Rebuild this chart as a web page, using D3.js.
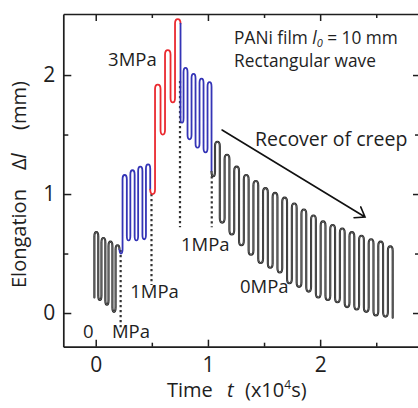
<!DOCTYPE html>
<html>
<head>
<meta charset="utf-8">
<script src="https://cdn.jsdelivr.net/npm/d3@7"></script>
<style>
  html, body { margin: 0; padding: 0; background: #fff; }
  svg { display: block; font-family: "Open Sans", sans-serif; }
</style>
</head>
<body>
<svg id="chart" width="418" height="408"></svg>
<script>
// Creep of a PANi film under a rectangular stress wave: 0 -> 1 -> 3 -> 1 -> 0 MPa.
// Each phase: time of its first stress-on edge (x10^4 s), wave period, on-fraction,
// and the elongation (mm) reached at the end of each on / off half-cycle.
const phaseNames   = ["0MPa", "1MPa", "3MPa", "1MPa", "0MPa"];
const phaseStart   = [-0.012, 0.239, 0.5285, 0.7825, 1.063];
const phasePeriod  = [0.063, 0.0695, 0.0891, 0.0713, 0.0856];
const phaseDuty    = [0.55, 0.55, 0.55, 0.5, 0.5];
const initialElongation = 0.13;

const peaks0    = [0.68, 0.63, 0.60, 0.57];
const valleys0  = [0.11, 0.07, 0.01, 0.50];
const peaks1    = [1.16, 1.20, 1.23, 1.25];
const valleys1  = [0.61, 0.61, 0.62, 1.00];
const peaks3    = [1.92, 2.21, 2.47];
const valleys3  = [1.50, 1.77, 1.60];
const peaks1b   = [2.06, 2.01, 1.97, 1.94];
const valleys1b = [1.46, 1.39, 1.35, 1.15];
const peaksRec  = [1.44, 1.33, 1.23, 1.16, 1.11, 1.05, 1.01, 0.97, 0.92, 0.87,
                   0.82, 0.77, 0.74, 0.71, 0.68, 0.65, 0.62, 0.60, 0.56];
const valleysRec = [0.76, 0.66, 0.57, 0.49, 0.42, 0.38, 0.34, 0.25, 0.22, 0.18,
                    0.13, 0.11, 0.09, 0.05, 0.03, 0.01, -0.02, -0.03, -0.04];

// Times at which the applied stress level is switched, and the span of each marker line
const stressSwitchTimes  = [0.222, 0.497, 0.751, 1.034];
const switchMarkerTop    = [0.53, 1.00, 1.95, 1.15];
const switchMarkerBottom = [-0.12, 0.235, 0.72, 0.72];

const xTicks = [0, 1, 2];
const xMinorTicks = [0.5, 1.5, 2.5];
const yTicks = [0, 1, 2];
const yMinorTicks = [0.5, 1.5];

const phasePeaks   = [peaks0, peaks1, peaks3, peaks1b, peaksRec];
const phaseValleys = [valleys0, valleys1, valleys3, valleys1b, valleysRec];

// ---- styling ----
const traceColor = { "0MPa": "#242424", "1MPa": "#3434b6", "3MPa": "#ea2a30" };
const ink = "#1e1e1e";

const svg = d3.select("#chart");
const x = d3.scaleLinear().domain([-0.289, 2.881]).range([63.3, 419]);
const y = d3.scaleLinear().domain([-0.283, 2.513]).range([346.7, 14]);

// ---- axes (ticks point into the plot) ----
function styleAxis(g, fontSize) {
  g.attr("font-family", null).attr("font-size", null);
  g.select(".domain").attr("stroke", ink).attr("stroke-width", 1.7);
  g.selectAll(".tick line").attr("stroke", ink).attr("stroke-width", 1.5);
  g.selectAll(".tick text").attr("fill", ink)
    .style("font-family", "'Open Sans', sans-serif").style("font-size", fontSize + "px");
}
function minor(g) { g.select(".domain").remove(); g.selectAll(".tick line").attr("stroke", ink).attr("stroke-width", 1.5); }

const yB = y.range()[0], yT = y.range()[1], xL = x.range()[0], xR = x.range()[1];

svg.append("g").attr("transform", `translate(0,${yB})`)
  .call(d3.axisBottom(x).tickValues(xTicks).tickSizeInner(-7).tickSizeOuter(0).tickPadding(10).tickFormat(d3.format("d")))
  .call(g => styleAxis(g, 21));
svg.append("g").attr("transform", `translate(0,${yB})`)
  .call(d3.axisBottom(x).tickValues(xMinorTicks).tickSizeInner(-4).tickSizeOuter(0).tickFormat(""))
  .call(minor);
svg.append("g").attr("transform", `translate(0,${yT})`)
  .call(d3.axisTop(x).tickValues(xTicks).tickSizeInner(-7).tickSizeOuter(0).tickFormat(""))
  .call(g => styleAxis(g, 21));
svg.append("g").attr("transform", `translate(0,${yT})`)
  .call(d3.axisTop(x).tickValues(xMinorTicks).tickSizeInner(-4).tickSizeOuter(0).tickFormat(""))
  .call(minor);
svg.append("g").attr("transform", `translate(${xL},0)`)
  .call(d3.axisLeft(y).tickValues(yTicks).tickSizeInner(-8).tickSizeOuter(0).tickPadding(8).tickFormat(d3.format("d")))
  .call(g => styleAxis(g, 21));
svg.append("g").attr("transform", `translate(${xL},0)`)
  .call(d3.axisLeft(y).tickValues(yMinorTicks).tickSizeInner(-5).tickSizeOuter(0).tickFormat(""))
  .call(minor);
svg.append("g").attr("transform", `translate(${xR},0)`)
  .call(d3.axisRight(y).tickValues(yTicks).tickSizeInner(-6).tickSizeOuter(0).tickFormat(""))
  .call(g => styleAxis(g, 21));
svg.append("g").attr("transform", `translate(${xR},0)`)
  .call(d3.axisRight(y).tickValues(yMinorTicks).tickSizeInner(-4).tickSizeOuter(0).tickFormat(""))
  .call(minor);

// ---- stress switch markers (dotted) ----
svg.append("g").selectAll("line")
  .data(stressSwitchTimes)
  .join("line")
  .attr("x1", d => x(d)).attr("x2", d => x(d))
  .attr("y1", (d, i) => y(switchMarkerTop[i]))
  .attr("y2", (d, i) => y(switchMarkerBottom[i]))
  .attr("stroke", "#333").attr("stroke-width", 2.2)
  .attr("stroke-dasharray", "2.2 2.8");

// ---- elongation trace ----
// Vertical edges of the rectangular response, joined by rounded tops and bottoms.
const strokes = [];
let level = initialElongation;
phaseStart.forEach((t0, i) => {
  const P = phasePeriod[i], on = phaseDuty[i] * P;
  phasePeaks[i].forEach((pk, k) => {
    const tUp = t0 + k * P;
    strokes.push({ t: tUp, from: level, to: pk });
    strokes.push({ t: tUp + on, from: pk, to: phaseValleys[i][k] });
    level = phaseValleys[i][k];
  });
});
const phaseAt = t => stressSwitchTimes.filter(s => s <= t).length;
const strokeLen = s => Math.abs(y(s.to) - y(s.from));
const R = 4.5;
const radius = strokes.slice(0, -1).map((s, j) =>
  Math.min(R, strokeLen(s) / 2, strokeLen(strokes[j + 1]) / 2));

const pieces = [];
strokes.forEach((s, j) => {
  const xs = x(s.t);
  const dir = s.to > s.from ? -1 : 1;          // pixel direction of the edge
  const rIn = j > 0 ? radius[j - 1] : 0;
  const rOut = j < strokes.length - 1 ? radius[j] : 0;
  pieces.push({ phase: phaseAt(s.t), type: "line",
    x0: xs, y0: y(s.from) + dir * rIn, x1: xs, y1: y(s.to) - dir * rOut });
  if (j < strokes.length - 1) {
    const n = strokes[j + 1], xe = x(n.t), yl = y(s.to), r = radius[j];
    const ye = yl - dir * r, yc = yl + dir * r / 3;
    pieces.push({ phase: phaseAt((s.t + n.t) / 2), type: "arc",
      x0: xs, y0: ye, c1x: xs, c1y: yc, c2x: xe, c2y: yc, x1: xe, y1: ye });
  }
});

const groups = [];
pieces.forEach(p => {
  const last = groups[groups.length - 1];
  if (last && last.phase === p.phase) last.items.push(p);
  else groups.push({ phase: p.phase, items: [p] });
});

const groupPath = g => {
  const p = d3.path();
  p.moveTo(g.items[0].x0, g.items[0].y0);
  g.items.forEach(it => {
    if (it.type === "line") p.lineTo(it.x1, it.y1);
    else p.bezierCurveTo(it.c1x, it.c1y, it.c2x, it.c2y, it.x1, it.y1);
  });
  return p.toString();
};

const traceG = svg.append("g").attr("fill", "none")
  .attr("stroke-linejoin", "round").attr("stroke-linecap", "round");
traceG.selectAll("path.trace")
  .data(groups)
  .join("path")
  .attr("class", "trace")
  .attr("d", groupPath)
  .attr("stroke", g => traceColor[phaseNames[g.phase]])
  .attr("stroke-width", g => phaseNames[g.phase] === "0MPa" ? 2.1 : 1.8);
// lighter core on the unloaded traces
traceG.selectAll("path.core")
  .data(groups.filter(g => phaseNames[g.phase] === "0MPa"))
  .join("path")
  .attr("class", "core")
  .attr("d", groupPath)
  .attr("stroke", "#8c8c8c")
  .attr("stroke-width", 0.6);

// ---- annotations ----
const ann = svg.append("g").attr("fill", ink);
function label(t, v, size, text) {
  return ann.append("text").attr("x", x(t)).attr("y", y(v))
    .style("font-size", size + "px").text(text);
}
label(0.11, 2.08, 18.5, "3MPa");
label(0.307, 0.126, 18.5, "1MPa");
label(-0.113, -0.21, 18.5, "0");
label(0.145, -0.21, 18.5, "MPa");
label(0.76, 0.52, 18.5, "1MPa");
label(1.286, 0.168, 18.5, "0MPa");
label(1.42, 1.403, 19.5, "Recover of creep");

const info = ann.append("text").attr("x", x(1.233)).attr("y", y(2.265)).style("font-size", "17.3px");
info.append("tspan").text("PANi film ");
info.append("tspan").style("font-style", "italic").text("l");
info.append("tspan").style("font-style", "italic").style("font-size", "11px").attr("dy", 3).text("0");
info.append("tspan").attr("dy", -3).text(" = 10 mm");
label(1.233, 2.07, 17.3, "Rectangular wave");

// recovery arrow
const a0 = [x(1.126), y(1.538)], a1 = [x(2.40), y(0.807)];
const ang = Math.atan2(a1[1] - a0[1], a1[0] - a0[0]);
const headLen = 11, spread = 0.62;
const arrow = d3.path();
arrow.moveTo(a0[0], a0[1]); arrow.lineTo(a1[0], a1[1]);
arrow.moveTo(a1[0] - headLen * Math.cos(ang - spread), a1[1] - headLen * Math.sin(ang - spread));
arrow.lineTo(a1[0], a1[1]);
arrow.lineTo(a1[0] - headLen * Math.cos(ang + spread), a1[1] - headLen * Math.sin(ang + spread));
svg.append("path").attr("d", arrow.toString()).attr("fill", "none")
  .attr("stroke", "#111").attr("stroke-width", 1.6).attr("stroke-linecap", "round");

// ---- axis titles ----
const yTitle = svg.append("g").attr("transform", "translate(26,288) rotate(-90)")
  .attr("fill", ink).style("font-size", "20px");
yTitle.append("text").attr("x", 0).text("Elongation");
const dl = yTitle.append("text").attr("x", 118);
dl.append("tspan").text("Δ");
dl.append("tspan").style("font-style", "italic").text("l");
yTitle.append("text").attr("x", 158).text("(mm)");

const xTitle = svg.append("g").attr("fill", ink).style("font-size", "20px");
xTitle.append("text").attr("x", 167).attr("y", 397).text("Time");
xTitle.append("text").attr("x", 227).attr("y", 397).style("font-style", "italic").text("t");
const unit = xTitle.append("text").attr("x", 245).attr("y", 397);
unit.append("tspan").text("(x10");
unit.append("tspan").attr("dy", -8).style("font-size", "12px").text("4");
unit.append("tspan").attr("dy", 8).text("s)");
</script>
</body>
</html>
